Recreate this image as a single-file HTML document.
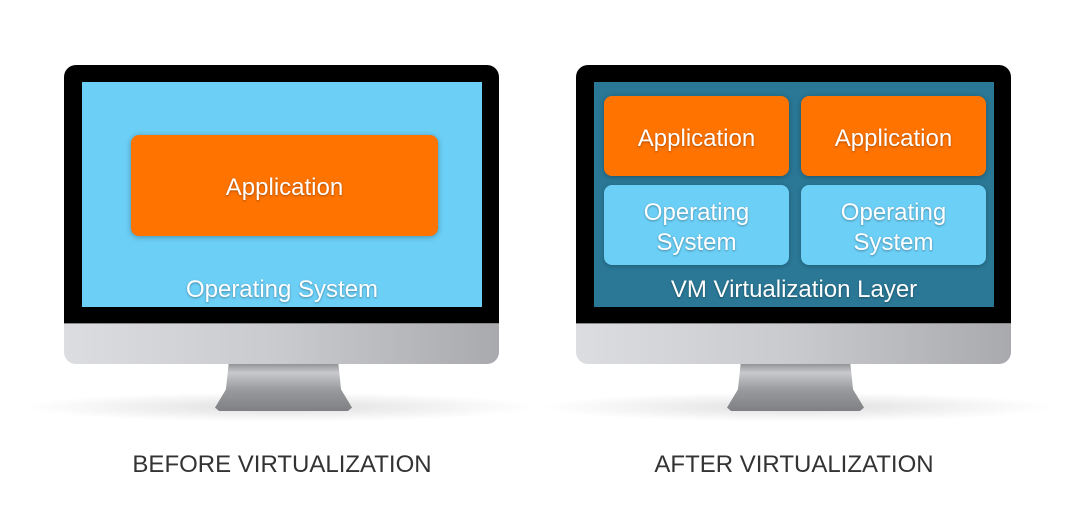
<!DOCTYPE html>
<html><head><style>
body{margin:0;width:1078px;height:516px;background:#fff;position:relative;overflow:hidden;font-family:"Liberation Sans",sans-serif}
.a{position:absolute}
.bez{background:#000;border-radius:12px 12px 0 0}
.chin{background:linear-gradient(90deg,#dcdde0,#c9cacd 50%,#a9aaad);border-radius:0 0 12px 12px;border-top:1px solid #888}
.stand{background:linear-gradient(180deg,#8d8e91,#c8c9cc 20%,#9a9b9e 55%,#7f8083);clip-path:polygon(10% 0,90% 0,92% 55%,100% 93%,97% 100%,3% 100%,0 93%,8% 55%)}
.sh{background:radial-gradient(ellipse at center,rgba(0,0,0,.13),rgba(0,0,0,0) 70%)}
.t{color:#fff;text-align:center;text-shadow:0 1px 2px rgba(0,0,0,.35);display:flex;align-items:center;justify-content:center;line-height:1.25;padding-top:5px;box-sizing:border-box}
.or{background:#ff7300;border-radius:8px;box-shadow:0 1px 6px rgba(0,0,0,.3)}
.lb{background:#6ccff6;border-radius:8px;box-shadow:0 1px 4px rgba(0,0,0,.25)}
.cap{font-size:24px;color:#333;text-align:center}
</style></head><body>
<div class="a sh" style="left:20px;top:392px;width:520px;height:30px"></div>
<div class="a stand" style="left:215px;top:363px;width:137px;height:48px"></div>
<div class="a bez" style="left:64px;top:65px;width:435px;height:258px"></div>
<div class="a chin" style="left:64px;top:323px;width:435px;height:40px"></div>
<div class="a" style="left:82px;top:82px;width:400px;height:225px;background:#6ccff6"></div>
<div class="a or t" style="left:131px;top:135px;width:307px;height:101px;font-size:24px">Application</div>
<div class="a t" style="left:82px;top:272px;width:400px;height:30px;font-size:24px">Operating System</div>
<div class="a cap" style="left:82px;top:451px;width:400px">BEFORE VIRTUALIZATION</div>
<div class="a sh" style="left:538px;top:392px;width:520px;height:30px"></div>
<div class="a stand" style="left:727px;top:363px;width:137px;height:48px"></div>
<div class="a bez" style="left:576px;top:65px;width:435px;height:258px"></div>
<div class="a chin" style="left:576px;top:323px;width:435px;height:40px"></div>
<div class="a" style="left:594px;top:82px;width:400px;height:225px;background:#2a7896"></div>
<div class="a or t" style="left:604px;top:96px;width:185px;height:80px;font-size:24px">Application</div>
<div class="a or t" style="left:801px;top:96px;width:185px;height:80px;font-size:24px">Application</div>
<div class="a lb t" style="left:604px;top:185px;width:185px;height:80px;font-size:24px">Operating<br>System</div>
<div class="a lb t" style="left:801px;top:185px;width:185px;height:80px;font-size:24px">Operating<br>System</div>
<div class="a t" style="left:594px;top:272px;width:400px;height:30px;font-size:24px">VM Virtualization Layer</div>
<div class="a cap" style="left:594px;top:451px;width:400px">AFTER VIRTUALIZATION</div>
</body></html>
